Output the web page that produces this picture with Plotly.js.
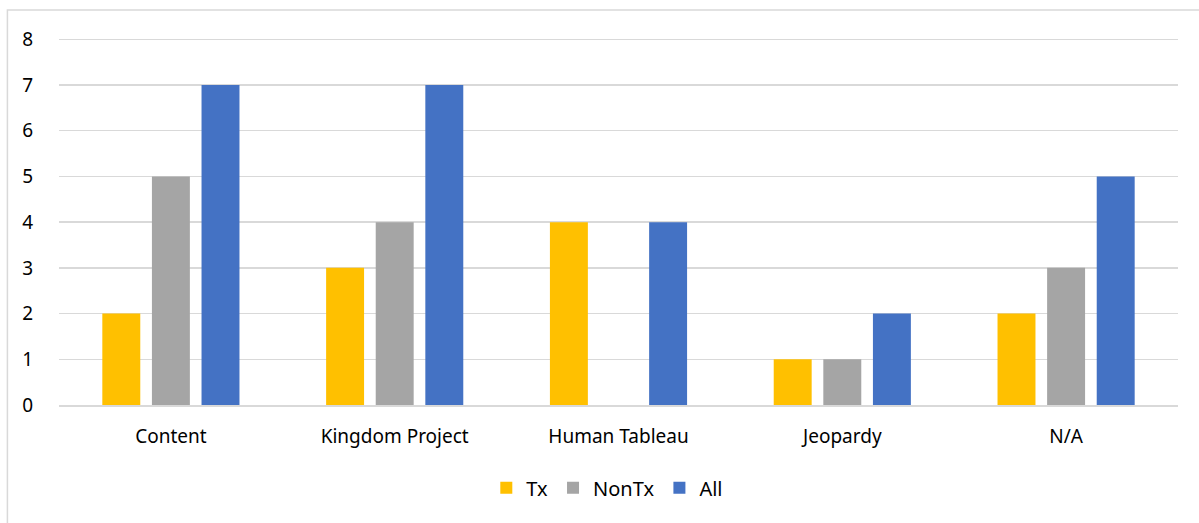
<!DOCTYPE html>
<html><head><meta charset="utf-8">
<script src="https://cdn.plot.ly/plotly-3.0.1.min.js"></script>
<style>body{margin:0;background:#fff}#chart{width:1199px;height:523px}</style>
</head><body><div id="chart"></div>
<script>
const categories = ["Content", "Kingdom Project", "Human Tableau", "Jeopardy", "N/A"];
const txValues = [2, 3, 4, 1, 2];
const nonTxValues = [5, 4, 0, 1, 3];
const allValues = [7, 7, 4, 2, 5];
const seriesNames = ["Tx", "NonTx", "All"];
const colors = ["#FFC000", "#A5A5A5", "#4472C4"];

const traces = [txValues, nonTxValues, allValues].map((v, i) => ({
  type: "bar", x: categories, y: v, name: seriesNames[i],
  marker: {color: colors[i]}, hoverinfo: "x+y"
}));

const layout = {
  width: 1199, height: 523,
  margin: {l: 59, r: 21, t: 36.7, b: 118},
  paper_bgcolor: "#fff", plot_bgcolor: "#fff",
  barmode: "group", bargap: 0.335, bargroupgap: 0.235,
  font: {family: "Noto Sans, Open Sans, sans-serif", size: 20, color: "#000"},
  xaxis: {showgrid: false, showline: true, linecolor: "#D9D9D9", linewidth: 1.5,
          ticks: "", ticklabelstandoff: 14, tickfont: {size: 19, color: "#000"}, fixedrange: true},
  yaxis: {range: [0, 8.05], tickvals: [0,1,2,3,4,5,6,7,8], showgrid: true, gridcolor: "#D9D9D9", gridwidth: 1.5,
          zeroline: false, showline: false, ticks: "", ticklabelstandoff: 25,
          tickfont: {size: 19, color: "#000"}, fixedrange: true},
  showlegend: true,
  legend: {orientation: "h", x: 0.49, xanchor: "center", y: -0.225, yanchor: "middle",
           font: {size: 20, color: "#000"}, itemwidth: 30, traceorder: "normal"},
  shapes: [{type: "rect", xref: "paper", yref: "paper",
            x0: -0.0461, x1: 1.03, y0: -0.34, y1: 1.0735,
            line: {color: "#D9D9D9", width: 1.5}, fillcolor: "rgba(0,0,0,0)", layer: "below"}]
};
Plotly.newPlot("chart", traces, layout, {displayModeBar: false, staticPlot: true});
</script></body></html>
